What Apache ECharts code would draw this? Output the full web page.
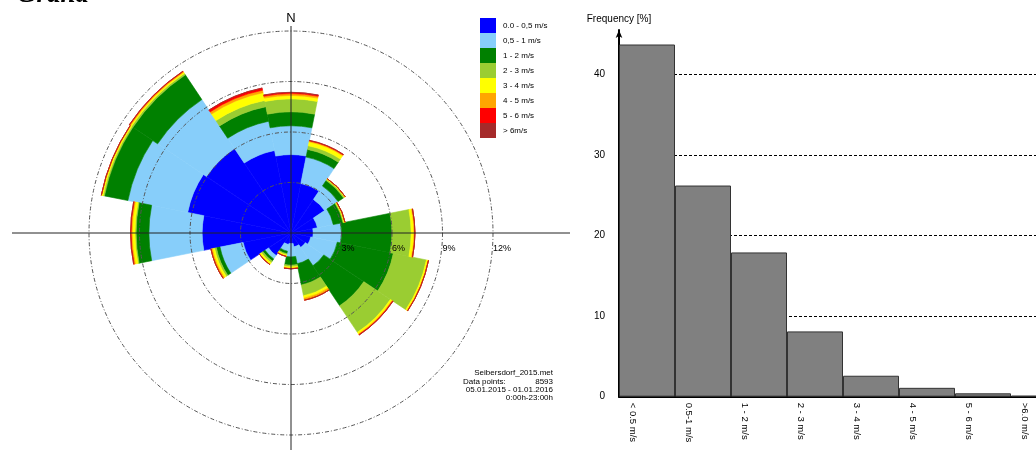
<!DOCTYPE html>
<html>
<head>
<meta charset="utf-8">
<script src="https://cdn.jsdelivr.net/npm/echarts@6/dist/echarts.min.js"></script>
<style>
  html, body { margin: 0; padding: 0; background: #fff; }
  #chart { width: 1036px; height: 450px; }
</style>
</head>
<body>
<div id="chart"></div>
<script>
// Wind direction sectors, clockwise from north
const directions = ['N', 'NNE', 'NE', 'ENE', 'E', 'ESE', 'SE', 'SSE',
                    'S', 'SSW', 'SW', 'WSW', 'W', 'WNW', 'NW', 'NNW'];

// Wind speed classes
const speedClasses = ['0.0 - 0,5 m/s', '0,5 - 1 m/s', '1 - 2 m/s', '2 - 3 m/s',
                      '3 - 4 m/s', '4 - 5 m/s', '5 - 6 m/s', '> 6m/s'];
const classColors = ['#0000FF', '#87CEFA', '#008000', '#9ACD32',
                     '#FFFF00', '#FFA500', '#FF0000', '#A52A2A'];

// Frequency [%] per direction sector, one array per speed class
const speed0to05 = [4.66, 3.00, 2.40, 1.60, 1.32, 1.20, 1.03, 0.84, 0.63, 0.70, 1.60, 2.90, 5.28, 6.26, 6.04, 5.00];
const speed05to1 = [1.71, 1.60, 0.96, 0.96, 1.68, 1.60, 1.31, 1.02, 0.79, 0.40, 0.25, 1.40, 3.16, 3.62, 3.49, 1.77];
const speed1to2  = [0.83, 0.46, 0.39, 0.59, 3.00, 3.40, 2.86, 1.29, 0.49, 0.15, 0.15, 0.22, 0.76, 1.42, 1.77, 0.88];
const speed2to3  = [0.77, 0.22, 0.07, 0.05, 1.14, 2.00, 1.90, 0.65, 0.10, 0.07, 0.12, 0.11, 0.07, 0.08, 0.10, 0.38];
const speed3to4  = [0.20, 0.24, 0.06, 0.07, 0.16, 0.10, 0.12, 0.15, 0.09, 0.08, 0.12, 0.13, 0.16, 0.08, 0.08, 0.47];
const speed4to5  = [0.11, 0.06, 0.00, 0.00, 0.06, 0.03, 0.04, 0.12, 0.02, 0.02, 0.02, 0.09, 0.07, 0.03, 0.05, 0.15];
const speed5to6  = [0.07, 0.03, 0.00, 0.00, 0.00, 0.00, 0.03, 0.00, 0.01, 0.00, 0.00, 0.00, 0.03, 0.00, 0.03, 0.13];
const speedAbove6 = [0.01, 0.00, 0.00, 0.00, 0.00, 0.00, 0.00, 0.00, 0.00, 0.00, 0.00, 0.00, 0.00, 0.00, 0.00, 0.00];
const roseClasses = [speed0to05, speed05to1, speed1to2, speed2to3, speed3to4, speed4to5, speed5to6, speedAbove6];

// Ring ticks of the rose [%]
const ringMax = 12;
const ringStep = 3;

// Speed class histogram
const histCategories = ['< 0.5 m/s', '0.5-1 m/s', '1 - 2 m/s', '2 - 3 m/s',
                        '3 - 4 m/s', '4 - 5 m/s', '5 - 6 m/s', '>6.0 m/s'];
const histFrequency = [43.7, 26.2, 17.9, 8.1, 2.6, 1.1, 0.42, 0.12];

// Station info
const infoLines = ['Seibersdorf_2015.met', '05.01.2015 - 01.01.2016', '0:00h-23:00h'];
const dataPoints = 8593;

const FONT = '"Liberation Sans", Arial, sans-serif';
const CX = 291, CY = 233, R = 202;

const chart = echarts.init(document.getElementById('chart'), null, { renderer: 'canvas' });

const roseSeries = roseClasses.map((values, i) => ({
  type: 'bar',
  name: speedClasses[i],
  coordinateSystem: 'polar',
  polarIndex: 0,
  stack: 'rose',
  data: values,
  barCategoryGap: '0%',
  // a thin border in the fill colour closes the seams between sectors
  itemStyle: { color: classColors[i], borderColor: classColors[i], borderWidth: 0.6 },
  silent: true
}));

const option = {
  animation: false,
  color: classColors,
  textStyle: { fontFamily: FONT },
  polar: [
    { center: [CX, CY], radius: R },
    { center: [CX, CY], radius: R }
  ],
  angleAxis: [
    {
      polarIndex: 0, type: 'category', data: directions,
      startAngle: 90 + 180 / directions.length, clockwise: true,
      axisLine: { show: false }, axisTick: { show: false },
      axisLabel: { show: false }, splitLine: { show: false }
    },
    {
      polarIndex: 1, type: 'value', min: 0, max: 360, startAngle: 0,
      axisLine: { show: false }, axisTick: { show: false },
      axisLabel: { show: false }, splitLine: { show: false }
    }
  ],
  radiusAxis: [
    {
      polarIndex: 0, min: 0, max: ringMax,
      axisLine: { show: false }, axisTick: { show: false },
      axisLabel: { show: false }, splitLine: { show: false }
    },
    {
      polarIndex: 1, min: 0, max: ringMax, interval: ringStep, z: 5,
      axisLine: { show: false }, axisTick: { show: false },
      axisLabel: {
        formatter: v => (v === 0 ? '' : v + '%'),
        fontSize: 9, color: '#000', fontFamily: FONT,
        align: 'left', verticalAlign: 'middle', margin: -16
      },
      splitLine: { show: true, lineStyle: { color: '#555', width: 1, type: [4, 2, 1, 2] } }
    }
  ],
  legend: {
    data: speedClasses,
    orient: 'vertical',
    left: 480, top: 18,
    padding: 0,
    itemWidth: 16, itemHeight: 15, itemGap: 0,
    icon: 'rect',
    itemStyle: { borderWidth: 0 },
    selectedMode: false,
    textStyle: { fontSize: 8, color: '#000', fontFamily: FONT, padding: [0, 0, 0, 2] }
  },
  grid: { left: 619, width: 448, top: 30, bottom: 53.3, outerBoundsMode: 'none', containLabel: false },
  xAxis: {
    type: 'category', data: histCategories,
    axisLine: { lineStyle: { color: '#000', width: 2 } },
    axisTick: { show: false },
    axisLabel: {
      rotate: -90, fontSize: 9.5, color: '#000', fontFamily: FONT,
      margin: 6, verticalAlign: 'top', padding: [9, 0, 0, 0], interval: 0
    }
  },
  yAxis: {
    type: 'value', min: 0, max: 45.5, interval: 10,
    name: 'Frequency [%]', nameLocation: 'end', nameGap: 6,
    nameTextStyle: { fontSize: 10, color: '#000', fontFamily: FONT, align: 'center' },
    axisLine: { show: true, lineStyle: { color: '#000', width: 2 },
                symbol: ['none', 'arrow'], symbolSize: [5, 8] },
    axisTick: { show: false },
    axisLabel: { showMaxLabel: false, fontSize: 10, color: '#000', fontFamily: FONT, margin: 14 },
    splitLine: { show: true, showMaxLine: false, lineStyle: { color: '#000', width: 1, type: [3, 2] } }
  },
  series: roseSeries.concat([{
    type: 'bar',
    name: 'Frequency',
    data: histFrequency,
    barCategoryGap: '0%',
    itemStyle: { color: '#808080', borderColor: '#333', borderWidth: 1 },
    silent: true
  }]),
  graphic: [
    // axis cross of the rose
    { type: 'line', z: 100, shape: { x1: 12, y1: CY, x2: 570, y2: CY }, style: { stroke: '#222', lineWidth: 1 } },
    { type: 'line', z: 100, shape: { x1: CX, y1: 26, x2: CX, y2: 450 }, style: { stroke: '#222', lineWidth: 1 } },
    { type: 'text', z: 100, x: CX, y: 18,
      style: { text: 'N', font: '13px ' + FONT, fill: '#000', align: 'center', verticalAlign: 'middle' } },
    { type: 'text', z: 100, x: 17, y: 9,
      style: { text: 'Grand', font: 'italic bold 27px "Liberation Serif", serif', fill: '#000', align: 'left', verticalAlign: 'bottom' } },
    // station info block
    { type: 'text', z: 100, x: 553, y: 373,
      style: { text: infoLines[0], font: '8px ' + FONT, fill: '#000', align: 'right', verticalAlign: 'middle' } },
    { type: 'text', z: 100, x: 463, y: 381.5,
      style: { text: 'Data points:', font: '8px ' + FONT, fill: '#000', align: 'left', verticalAlign: 'middle' } },
    { type: 'text', z: 100, x: 553, y: 381.5,
      style: { text: String(dataPoints), font: '8px ' + FONT, fill: '#000', align: 'right', verticalAlign: 'middle' } },
    { type: 'text', z: 100, x: 553, y: 389.5,
      style: { text: infoLines[1], font: '8px ' + FONT, fill: '#000', align: 'right', verticalAlign: 'middle' } },
    { type: 'text', z: 100, x: 553, y: 397.5,
      style: { text: infoLines[2], font: '8px ' + FONT, fill: '#000', align: 'right', verticalAlign: 'middle' } }
  ]
};

chart.setOption(option);
</script>
</body>
</html>
